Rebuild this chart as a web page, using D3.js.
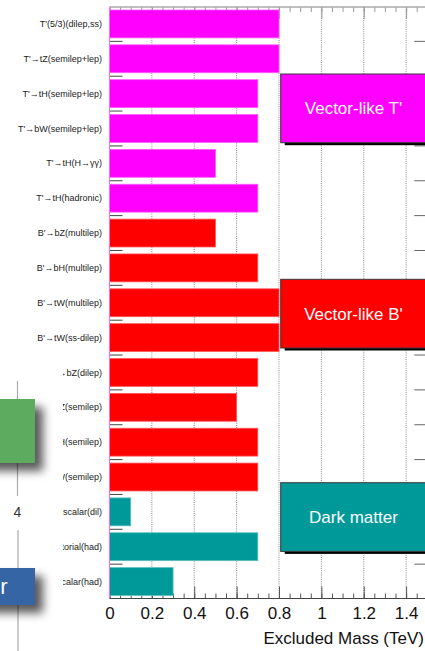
<!DOCTYPE html>
<html><head><meta charset="utf-8">
<script src="https://cdn.jsdelivr.net/npm/d3@7"></script>
<style>body{margin:0;background:#fff}svg{display:block;font-family:"Liberation Sans",Arial,Helvetica,sans-serif}</style>
</head><body><svg id="c" width="425" height="651"></svg>
<script>
// ---------------- data ----------------
const categories = ["T'(5/3)(dilep,ss)", "T'\u2192tZ(semilep+lep)", "T'\u2192tH(semilep+lep)", "T'\u2192bW(semilep+lep)", "T'\u2192tH(H\u2192\u03b3\u03b3)", "T'\u2192tH(hadronic)", "B'\u2192bZ(multilep)", "B'\u2192bH(multilep)", "B'\u2192tW(multilep)", "B'\u2192tW(ss-dilep)", "B'\u2192bZ(dilep)", "B'\u2192bZ(semilep)", "B'\u2192bH(semilep)", "B'\u2192tW(semilep)", "DM, scalar(dil)", "DM, vectorial(had)", "DM, scalar(had)"];
const excludedMass = [0.8, 0.8, 0.7, 0.7, 0.5, 0.7, 0.5, 0.7, 0.8, 0.8, 0.7, 0.6, 0.7, 0.7, 0.1, 0.7, 0.3];
const groups = ["T","T","T","T","T","T","B","B","B","B","B","B","B","B","DM","DM","DM"];
const groupKeys = ["T", "B", "DM"];
const groupNames = ["Vector-like T'", "Vector-like B'", "Dark matter"];
const xTickValues = [0, 0.2, 0.4, 0.6, 0.8, 1, 1.2, 1.4];
const xAxisTitle = "Excluded Mass (TeV)";

// ---------------- layout / style ----------------
const W = 425, H = 651;
const plotTop = 7, plotBottom = 598.5, plotLeft = 109.5, plotRight = 427.3;
const colors = {T: "#ff00ff", B: "#ff0000", DM: "#009999"};
const boxTops = [74, 279.3, 482.7], boxH = 68.7;

const svg = d3.select("#c");
const defs = svg.append("defs");
const f = defs.append("filter").attr("id", "sh").attr("x", "-50%").attr("y", "-50%").attr("width", "200%").attr("height", "200%");
f.append("feDropShadow").attr("dx", 8).attr("dy", 8).attr("stdDeviation", 5).attr("flood-color", "#000").attr("flood-opacity", 0.65);
defs.append("clipPath").attr("id", "lblclip").append("path")
  .attr("d", "M0,0H425V651H63V356H0Z");

const x = d3.scaleLinear().domain([0, 1.5]).range([plotLeft, plotRight]);
const y = d3.scaleBand().domain(categories).range([6.5, 599]).paddingInner(0.2).paddingOuter(0.1);

// grid lines
svg.append("g").selectAll("line").data(xTickValues.filter(d => d > 0)).join("line")
  .attr("x1", d => x(d)).attr("x2", d => x(d)).attr("y1", plotTop).attr("y2", plotBottom)
  .attr("stroke", "#8a8a8a").attr("stroke-width", 1).attr("stroke-dasharray", "1,1.2");

// minor ticks
const minor = x.ticks(30);
svg.append("g").attr("transform", `translate(0,${plotBottom})`)
  .call(d3.axisBottom(x).tickValues(minor).tickSizeInner(-5).tickSizeOuter(0).tickFormat(""))
  .call(g => g.select(".domain").remove())
  .call(g => g.selectAll("line").attr("stroke", "#555"));
svg.append("g").attr("transform", `translate(0,${plotTop})`)
  .call(d3.axisTop(x).tickValues(minor).tickSizeInner(-5).tickSizeOuter(0).tickFormat(""))
  .call(g => g.select(".domain").remove())
  .call(g => g.selectAll("line").attr("stroke", "#999"));
// major ticks + labels
svg.append("g").attr("transform", `translate(0,${plotBottom})`)
  .call(d3.axisBottom(x).tickValues(xTickValues).tickSizeInner(-12).tickSizeOuter(0).tickPadding(8.5).tickFormat(d3.format("~g")))
  .call(g => g.select(".domain").remove())
  .call(g => g.selectAll("line").attr("stroke", "#555"))
  .call(g => g.selectAll("text").attr("font-size", 17).attr("fill", "#111").attr("font-family", "Liberation Sans, Arial, sans-serif"));
svg.append("g").attr("transform", `translate(0,${plotTop})`)
  .call(d3.axisTop(x).tickValues(xTickValues).tickSizeInner(-12).tickSizeOuter(0).tickFormat(""))
  .call(g => g.select(".domain").remove())
  .call(g => g.selectAll("line").attr("stroke", "#999"));

// axis lines
svg.append("line").attr("x1", plotLeft).attr("x2", plotRight).attr("y1", plotBottom).attr("y2", plotBottom).attr("stroke", "#444");
svg.append("line").attr("x1", plotLeft).attr("x2", plotRight).attr("y1", plotTop).attr("y2", plotTop).attr("stroke", "#aaa").attr("stroke-width", 1.5);

// row-boundary ticks (left and right)
const bounds = categories.slice(1).map(c => y(c) - y.step() * y.paddingInner() / 2);
svg.append("g").selectAll("line").data(bounds).join("line")
  .attr("x1", plotLeft).attr("x2", plotLeft + 13).attr("y1", d => d).attr("y2", d => d)
  .attr("stroke", "#444");
svg.append("g").selectAll("line").data(bounds).join("line")
  .attr("x1", plotRight - 13).attr("x2", plotRight).attr("y1", d => d).attr("y2", d => d)
  .attr("stroke", "#666");

// bars
svg.append("g").selectAll("rect").data(categories).join("rect")
  .attr("x", x(0)).attr("y", d => y(d))
  .attr("width", (d, i) => x(excludedMass[i]) - x(0)).attr("height", y.bandwidth())
  .attr("fill", (d, i) => colors[groups[i]])
  .attr("stroke", (d, i) => d3.interpolateRgb(colors[groups[i]], "#fff")(0.35))
  .attr("stroke-width", 0.8);

// left axis line
svg.append("line").attr("x1", plotLeft).attr("x2", plotLeft).attr("y1", plotTop).attr("y2", plotBottom)
  .attr("stroke", "#ff66ff").attr("stroke-width", 1);

// category labels
svg.append("g").attr("clip-path", "url(#lblclip)").selectAll("text").data(categories).join("text")
  .attr("x", 102).attr("y", d => y(d) + y.bandwidth() / 2)
  .attr("dy", "0.35em").attr("text-anchor", "end")
  .attr("font-size", 9).attr("fill", "#222").text(d => d);

// group boxes
const boxG = svg.append("g").selectAll("g").data(groupKeys).join("g");
boxG.append("rect").attr("x", x(0.808) + 4).attr("y", (d, i) => boxTops[i] + 2.5)
  .attr("width", plotRight - x(0.808) + 4).attr("height", boxH).attr("fill", "#000");
boxG.append("rect").attr("x", x(0.808)).attr("y", (d, i) => boxTops[i])
  .attr("width", plotRight - x(0.808) + 4).attr("height", boxH)
  .attr("fill", d => colors[d]).attr("stroke", "#3a3a3a").attr("stroke-width", 1);
boxG.append("text").attr("x", 353.5).attr("y", (d, i) => boxTops[i] + boxH / 2)
  .attr("dy", "0.35em").attr("text-anchor", "middle").attr("fill", "#fff")
  .attr("font-size", 17).text((d, i) => groupNames[i]);

// axis title
svg.append("text").attr("x", 424).attr("y", 644).attr("text-anchor", "end")
  .attr("font-size", 17).attr("fill", "#111").text(xAxisTitle);

// overlay fragment (left bottom)
const ov = svg.append("g");
ov.append("line").attr("x1", 17.5).attr("x2", 17.5).attr("y1", 381).attr("y2", 496).attr("stroke", "#aaa").attr("stroke-width", 1.2);
ov.append("line").attr("x1", 18).attr("x2", 18).attr("y1", 530).attr("y2", 651).attr("stroke", "#aaa").attr("stroke-width", 1.2);
ov.append("rect").attr("x", -20).attr("y", 399).attr("width", 55).attr("height", 64).attr("fill", "#5bab5f").attr("filter", "url(#sh)");
ov.append("rect").attr("x", -20).attr("y", 568).attr("width", 55).attr("height", 37).attr("fill", "#3465a4").attr("filter", "url(#sh)");
ov.append("text").attr("x", 17.5).attr("y", 516.7).attr("text-anchor", "middle").attr("font-size", 14).attr("fill", "#333").text("4");
ov.append("text").attr("x", 7.5).attr("y", 594).attr("text-anchor", "end").attr("font-size", 22).attr("fill", "#fff").text("r");
</script></body></html>
